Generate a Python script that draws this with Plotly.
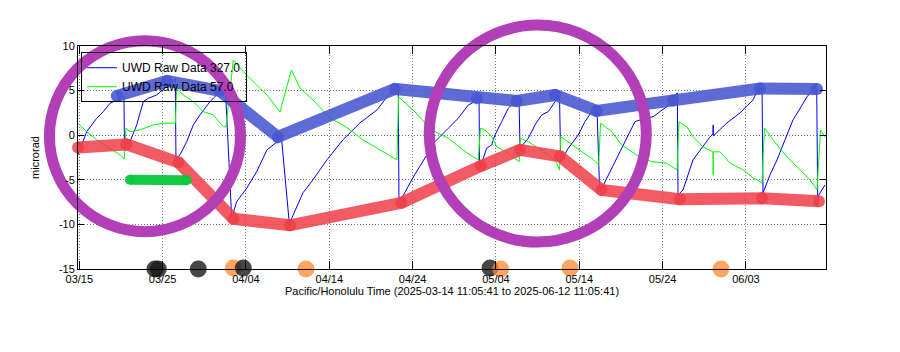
import pandas as pd
import plotly.graph_objects as go

# ---------------- data (time = days since 2025-03-15 00:00 HST) ----------------
T0 = pd.Timestamp("2025-03-15 00:00")

tick_dates = ["2025-03-15", "2025-03-25", "2025-04-04", "2025-04-14", "2025-04-24",
              "2025-05-04", "2025-05-14", "2025-05-24", "2025-06-03"]
tick_labels = ["03/15", "03/25", "04/04", "04/14", "04/24", "05/04", "05/14", "05/24", "06/03"]
y_ticks = [-15, -10, -5, 0, 5, 10]
y_tick_labels = ["-15", "-10", "-5", "0", "5", "10"]

# UWD raw tilt, azimuth 327.0 (microrad)
raw327_day = [-0.16, 0.89, 2.09, 2.88, 3.68, 4.88, 5.36, 5.42, 6.08, 6.89, 7.68, 8.28, 9.29, 10.28,
              11.28, 11.52, 11.60, 12.08, 12.89, 13.68, 14.48, 15.68, 16.88, 17.52, 18.29, 18.89,
              20.09, 21.29, 22.52, 23.72, 24.24, 25.22, 25.52, 26.84, 28.04, 29.72, 31.64, 33.68,
              35.72, 36.92, 37.88, 38.28, 38.36, 38.72, 40.16, 41.49, 42.69, 44.28, 45.48, 46.68,
              47.49, 47.97, 48.04, 48.48, 48.89, 49.49, 49.89, 50.69, 51.48, 52.29, 52.77, 52.89,
              53.88, 54.69, 55.49, 56.28, 57.09, 57.63, 57.77, 58.68, 59.88, 60.69, 61.49, 62.13,
              62.43, 62.73, 63.48, 64.29, 65.49, 66.69, 67.89, 68.88, 70.49, 71.49, 71.77, 71.85,
              72.45, 73.65, 74.49, 75.69, 76.05, 76.07, 76.09, 77.73, 79.29, 80.85, 81.69, 81.93,
              82.05, 82.89, 83.73, 84.69, 85.65, 87.33, 88.49, 88.61, 89.49]
raw327_val = [-2.21, 0.40, 1.90, 2.64, 3.58, 4.14, 4.32, -1.46, -0.72, 1.15, 3.76, 4.14, 4.51, 5.30,
              6.19, 6.30, -2.58, -2.21, -0.72, 1.15, 2.27, 3.76, 4.88, 5.41, -9.29, -7.44,
              -5.94, -4.08, -1.65, -0.75, -0.08, -10.04, -9.26, -6.46, -5.00, -2.76, -0.52, 1.38,
              2.83, 4.29, 5.30, 5.63, -7.02, -7.02, -4.56, -2.58, -0.72, 0.78, 1.90, 3.39,
              3.76, 4.32, -3.70, -2.58, -1.46, -1.09, 0.03, 1.52, 3.02, 3.76, 4.14, -1.46,
              -0.34, 1.15, 2.27, 2.64, 3.76, 4.32, -2.96, -1.46, 0.03, 1.52, 2.64, 2.95,
              -5.94, -5.90, -4.45, -2.96, -0.72, 1.52, 1.90, 2.08, 3.20, 4.51, 4.74, -6.69,
              -6.13, -2.77, -1.65, -0.19, 0.15, 1.15, -0.08, 1.38, 2.50, 3.95, 5.63, 5.74,
              -6.46, -4.45, -2.77, -0.52, 1.71, 4.29, 5.74, -6.91, -5.57]

# UWD raw tilt, azimuth 57.0 (microrad)
raw57_day = [-0.16, 0.89, 2.09, 3.68, 4.88, 5.40, 5.60, 6.08, 7.28, 8.88, 10.08, 11.52, 11.69, 12.48,
             13.68, 14.88, 16.08, 17.28, 17.60, 18.48, 19.68, 21.29, 22.52, 24.08, 25.46, 26.48,
             28.04, 30.08, 32.00, 34.04, 36.08, 38.12, 38.32, 40.28, 42.29, 44.28, 46.29, 47.88,
             48.14, 48.69, 49.49, 50.09, 51.09, 52.29, 52.80, 52.92, 53.88, 55.08, 56.28, 57.29,
             57.63, 57.78, 59.09, 60.29, 61.49, 62.33, 62.55, 63.89, 65.09, 66.29, 67.49, 68.69,
             70.49, 71.73, 71.97, 72.93, 73.65, 74.85, 76.05, 76.07, 76.09, 76.89, 78.09, 79.65,
             80.85, 81.93, 82.23, 83.25, 84.93, 86.49, 87.69, 88.53, 88.95, 89.49]
raw57_val = [1.34, 0.40, -0.53, -1.46, -2.21, -2.65, 0.78, 0.40, 0.59, 1.15, 1.34, 1.34, 5.26, 4.51,
             3.76, 2.64, 2.27, 0.96, 0.93, 8.43, 7.12, 5.63, 4.51, 2.61, 7.31, 5.30,
             3.95, 1.94, 0.93, -0.52, -1.65, -2.77, 4.29, 2.61, 0.59, -0.34, -1.84, -2.77,
             0.78, 0.59, -0.16, -1.28, -1.84, -2.58, -2.96, -0.34, -0.72, -1.46, -2.21, -3.14,
             -3.89, -0.16, -1.09, -1.84, -2.58, -3.33, 1.34, 0.40, -1.09, -1.84, -2.58, -2.96,
             -3.14, -3.89, 1.49, 0.93, -0.19, -1.31, -1.87, -4.45, -1.87, -1.87, -3.11, -3.89,
             -4.78, -5.34, 0.82, -0.52, -2.43, -3.89, -5.00, -6.13, 0.59, -0.19]

# hand-drawn markup: line through the peaks, line through the troughs, short bar
peak_day = [4.49, 10.52, 16.88, 23.84, 37.88, 47.73, 52.49, 57.09, 62.09, 71.25, 81.69, 88.53]
peak_val = [4.40, 6.08, 4.96, -0.19, 5.18, 4.14, 3.84, 4.51, 2.72, 3.90, 5.24, 5.18]
trough_day = [-0.15, 5.66, 11.90, 18.50, 25.28, 38.66, 48.20, 52.89, 57.68, 62.67, 72.09, 81.93, 88.77]
trough_val = [-1.37, -1.03, -3.05, -9.37, -10.10, -7.58, -3.44, -1.65, -2.37, -6.13, -7.19, -7.08, -7.41]
bar_day = [6.08, 12.88]
bar_val = [-5.00, -5.05]

# circled regions (centres)
ring_day = [7.88, 55.02]
ring_val = [-0.11, 0.18]

# event dots along the time axis
dot_day = [9.08, 9.48, 14.28, 18.48, 19.68, 27.20, 49.29, 50.57, 58.89, 77.01]
dot_val = [-15.0, -15.0, -15.0, -14.89, -14.89, -15.0, -14.89, -15.0, -14.89, -15.0]
dot_kind = ["k", "k", "k", "o", "k", "o", "k", "o", "o", "o"]


def to_time(days):
    return [T0 + pd.Timedelta(days=d) for d in days]


# ---------------- styles ----------------
FONT = "Liberation Sans, Arial, Helvetica, sans-serif"
ring_px = [191, 217]
dot_colors = {"k": "rgba(25,25,25,0.8)", "o": "rgba(255,135,45,0.75)"}
red = "rgba(240,62,72,0.85)"
blue = "rgba(72,86,210,0.88)"
green = "rgba(8,200,60,0.95)"
purple = "rgb(178,62,184)"

fig = go.Figure()
fig.add_trace(go.Scatter(x=to_time(raw327_day), y=raw327_val, mode="lines",
                         line=dict(color="#0000ff", width=1), name="UWD Raw Data 327.0"))
fig.add_trace(go.Scatter(x=to_time(raw57_day), y=raw57_val, mode="lines",
                         line=dict(color="#00ff00", width=1), name="UWD Raw Data 57.0"))
fig.add_trace(go.Scatter(x=to_time(trough_day), y=trough_val, mode="lines+markers",
                         line=dict(color=red, width=12), marker=dict(color=red, size=12),
                         cliponaxis=False, showlegend=False))
fig.add_trace(go.Scatter(x=to_time(peak_day), y=peak_val, mode="lines+markers",
                         line=dict(color=blue, width=12), marker=dict(color=blue, size=12),
                         cliponaxis=False, showlegend=False))
fig.add_trace(go.Scatter(x=to_time(bar_day), y=bar_val, mode="lines+markers",
                         line=dict(color=green, width=10), marker=dict(color=green, size=10),
                         cliponaxis=False, showlegend=False))
fig.add_trace(go.Scatter(x=to_time(ring_day), y=ring_val, mode="markers",
                         marker=dict(symbol="circle-open", size=ring_px, color=purple, opacity=1,
                                     line=dict(width=11, color=purple)),
                         cliponaxis=False, showlegend=False))
fig.add_trace(go.Scatter(x=to_time(dot_day), y=dot_val, mode="markers",
                         marker=dict(size=17, opacity=1, color=[dot_colors[k] for k in dot_kind]),
                         cliponaxis=False, showlegend=False))

axis_common = dict(showline=True, linecolor="black", linewidth=1, mirror="ticks",
                   ticks="inside", tickcolor="black", tickwidth=1,
                   showgrid=True, gridcolor="#7a7a7a", griddash="1px,2px", gridwidth=1,
                   zeroline=False, tickfont=dict(family=FONT, size=11, color="black"))

fig.update_layout(
    width=900, height=352,
    margin=dict(l=78, r=74, t=46, b=83),
    paper_bgcolor="white", plot_bgcolor="white",
    font=dict(family=FONT, size=11, color="black"),
    xaxis=dict(type="date", range=["2025-03-14 20:15", "2025-06-12 14:38"],
               tickvals=tick_dates, ticktext=tick_labels, ticklen=8,
               title=dict(text="Pacific/Honolulu Time (2025-03-14 11:05:41 to 2025-06-12 11:05:41)",
                          font=dict(family=FONT, size=11, color="black"), standoff=3),
               **axis_common),
    yaxis=dict(range=[-15, 10], tickvals=y_ticks, ticktext=y_tick_labels, ticklen=6,
               title=dict(text="microrad", font=dict(family=FONT, size=11, color="black"),
                          standoff=17),
               **axis_common),
    legend=dict(x=0.004, y=0.972, xanchor="left", yanchor="top",
                bgcolor="rgba(0,0,0,0)", bordercolor="black", borderwidth=1,
                font=dict(family=FONT, size=12, color="black")),
    hovermode=False,
)

fig.write_html("out.html")
